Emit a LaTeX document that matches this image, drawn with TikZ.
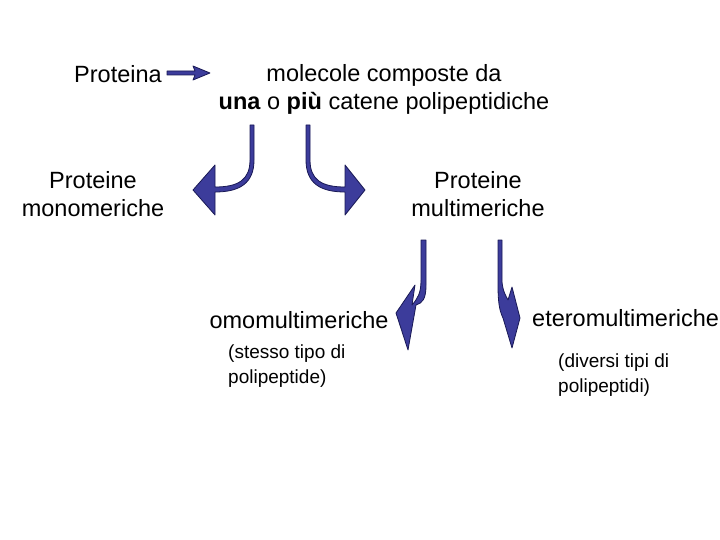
\documentclass[tikz,border=0pt]{standalone}
\usepackage{fontspec}
\setmainfont{Liberation Sans}
\begin{document}
\begin{tikzpicture}[x=1pt,y=-1pt,
  big/.style={font=\fontsize{23.5}{28}\selectfont, align=center, inner sep=0pt},
  small/.style={font=\fontsize{19}{25}\selectfont, align=left, inner sep=0pt, anchor=west},
  arr/.style={fill={rgb,255:red,60;green,60;blue,155}, draw={rgb,255:red,25;green,25;blue,85}, line width=0.8pt, line join=round}]
\useasboundingbox (0,0) rectangle (720,540);
\node[big] (p) at (118,74) {Proteina};
\node[big] (m) at (384,89) {molecole composte da\\\textbf{una} o \textbf{più} catene polipeptidiche};
\node[big] (mono) at (93,194) {Proteine\\monomeriche};
\node[big] (multi) at (478,194) {Proteine\\multimeriche};
\node[big] (omo) at (299,320) {omomultimeriche};
\node[big,anchor=west] (etero) at (532,318) {eteromultimeriche};
\node[small] (s1) at (228,366) {(stesso tipo di\\polipeptide)};
\node[small] (s2) at (558,375) {(diversi tipi di\\polipeptidi)};
% top straight arrow
\path[arr] (167,71) -- (195,71) -- (193,66) -- (210,73) -- (193,80) -- (195,75) -- (167,75) -- cycle;
% left curved arrow
\path[arr] (250,125) -- (254,125) -- (254,160) .. controls (254,183) and (240,192) .. (215,192) -- (215,215) -- (193,190) -- (215,165) -- (215,187) .. controls (238,187) and (250,180) .. (250,160) -- cycle;
% right curved arrow
\path[arr] (306,125) -- (310,125) -- (310,160) .. controls (310,180) and (322,187) .. (345,187) -- (345,165) -- (365,190) -- (345,215) -- (345,192) .. controls (320,192) and (306,183) .. (306,160) -- cycle;
% lower left arrow
\path[arr] (421,240) -- (426,240) -- (426,285) .. controls (426,300) and (422,303) .. (416,305) -- (408,350) -- (396,313) -- (415,285) -- (412,305) .. controls (418,298) and (421,293) .. (421,280) -- cycle;
% lower right arrow
\path[arr] (498,240) -- (502,240) -- (502,282) .. controls (503,292) and (506,296) .. (508,300) -- (512,287) -- (520,318) -- (512,348) -- (503,318) .. controls (499,310) and (498,300) .. (498,285) -- cycle;
\end{tikzpicture}
\end{document}
